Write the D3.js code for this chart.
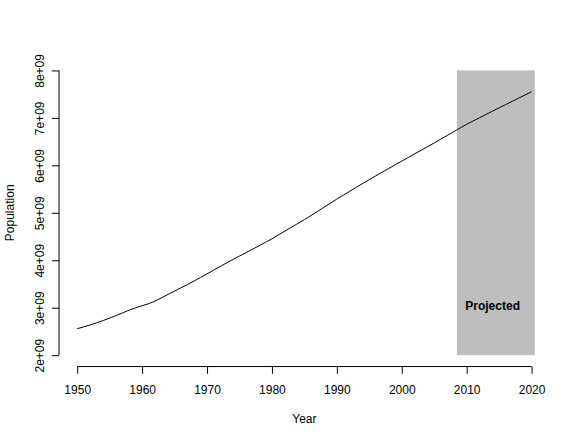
<!DOCTYPE html>
<html>
<head>
<meta charset="utf-8">
<script src="https://cdn.jsdelivr.net/npm/d3@7"></script>
<style>
  body { margin: 0; background: #fff; }
  svg { display: block; font-family: "Liberation Sans", Arial, sans-serif; }
</style>
</head>
<body>
<div id="chart"></div>
<script>
// -----------------------------
// DATA (world population)
// -----------------------------
const years = d3.range(1950, 2021);
const population = [
  2.558, 2.595, 2.637, 2.682, 2.730, 2.782, 2.835, 2.891, 2.948, 2.998,
  3.043, 3.084, 3.140, 3.210, 3.281, 3.350, 3.421, 3.490, 3.562, 3.637,
  3.713, 3.790, 3.867, 3.942, 4.017, 4.089, 4.160, 4.232, 4.304, 4.379,
  4.451, 4.534, 4.615, 4.696, 4.775, 4.856, 4.941, 5.027, 5.115, 5.201,
  5.289, 5.372, 5.456, 5.538, 5.619, 5.699, 5.779, 5.858, 5.935, 6.012,
  6.089, 6.165, 6.242, 6.319, 6.396, 6.473, 6.551, 6.630, 6.709, 6.788,
  6.866, 6.936, 7.005, 7.074, 7.143, 7.212, 7.280, 7.348, 7.416, 7.484,
  7.552
].map(v => v * 1e9);

// Shaded "projected" band and its label
const projStart = 2008.5;
const projEnd = 2020.5;
const projLow = 2e9;
const projHigh = 8e9;
const projLabel = "Projected";
const projLabelAt = [2014, 3e9];

const xTicks = [1950, 1960, 1970, 1980, 1990, 2000, 2010, 2020];
const yTicks = [2e9, 3e9, 4e9, 5e9, 6e9, 7e9, 8e9];
const yTickLabels = ["2e+09", "3e+09", "4e+09", "5e+09", "6e+09", "7e+09", "8e+09"];

const series = years.map((yr, i) => ({ year: yr, pop: population[i] }));

// -----------------------------
// LAYOUT (R base graphics margins, 14.4px per line)
// -----------------------------
const width = 580;
const height = 440;
const lineH = 14.4;
const margin = { top: 4.1 * lineH, bottom: 5.1 * lineH, left: 4.1 * lineH, right: 2.1 * lineH };

const svg = d3.select("#chart")
  .append("svg")
  .attr("width", width)
  .attr("height", height);

// R pads the data range by 4% on each side
const xMin = d3.min(years), xMax = d3.max(years);
const xPad = (xMax - xMin) * 0.04;
const yPad = (projHigh - projLow) * 0.04;

const x = d3.scaleLinear()
  .domain([xMin - xPad, xMax + xPad])
  .range([margin.left, width - margin.right]);

const y = d3.scaleLinear()
  .domain([projLow - yPad, projHigh + yPad])
  .range([height - margin.bottom, margin.top]);

// -----------------------------
// PROJECTED BAND
// -----------------------------
svg.append("rect")
  .attr("x", x(projStart))
  .attr("y", y(projHigh))
  .attr("width", x(projEnd) - x(projStart))
  .attr("height", y(projLow) - y(projHigh))
  .attr("fill", "#bebebe");

svg.append("text")
  .attr("x", x(projLabelAt[0]))
  .attr("y", y(projLabelAt[1]))
  .attr("dy", "0.17em")
  .attr("text-anchor", "middle")
  .style("font-size", "12px")
  .style("font-weight", "bold")
  .text(projLabel);

// -----------------------------
// POPULATION LINE
// -----------------------------
svg.append("path")
  .datum(series)
  .attr("fill", "none")
  .attr("stroke", "#000")
  .attr("stroke-width", 1)
  .attr("d", d3.line().x(d => x(d.year)).y(d => y(d.pop)));

// -----------------------------
// AXES (line only spans first to last tick, like R)
// -----------------------------
const tickLen = 0.5 * lineH;

const xAxis = svg.append("g")
  .attr("transform", `translate(0,${y.range()[0]})`)
  .call(d3.axisBottom(x).tickValues(xTicks).tickFormat(d3.format("d")).tickSize(tickLen).tickSizeOuter(0));
xAxis.select(".domain").remove();
xAxis.append("line")
  .attr("x1", x(xTicks[0])).attr("x2", x(xTicks[xTicks.length - 1]))
  .attr("stroke", "#000");
xAxis.selectAll("text")
  .attr("y", 27.5)
  .attr("dy", 0)
  .attr("fill", "#000")
  .style("font-size", "12px")
  .style("font-family", "'Liberation Sans', Arial, sans-serif");

const yAxis = svg.append("g")
  .attr("transform", `translate(${x.range()[0]},0)`)
  .call(d3.axisLeft(y).tickValues(yTicks).tickFormat((d, i) => yTickLabels[i]).tickSize(tickLen).tickSizeOuter(0));
yAxis.select(".domain").remove();
yAxis.append("line")
  .attr("y1", y(yTicks[0])).attr("y2", y(yTicks[yTicks.length - 1]))
  .attr("stroke", "#000");
yAxis.selectAll("text")
  .attr("x", 0)
  .attr("dy", 0)
  .attr("transform", "translate(-14.7,0) rotate(-90)")
  .attr("text-anchor", "middle")
  .attr("fill", "#000")
  .style("font-size", "12px")
  .style("font-family", "'Liberation Sans', Arial, sans-serif");

// Axis titles
svg.append("text")
  .attr("x", (x.range()[0] + x.range()[1]) / 2)
  .attr("y", 423)
  .attr("text-anchor", "middle")
  .style("font-size", "12px")
  .text("Year");

svg.append("text")
  .attr("transform", `translate(13.6,${(y.range()[0] + y.range()[1]) / 2}) rotate(-90)`)
  .attr("text-anchor", "middle")
  .style("font-size", "12px")
  .text("Population");
</script>
</body>
</html>
